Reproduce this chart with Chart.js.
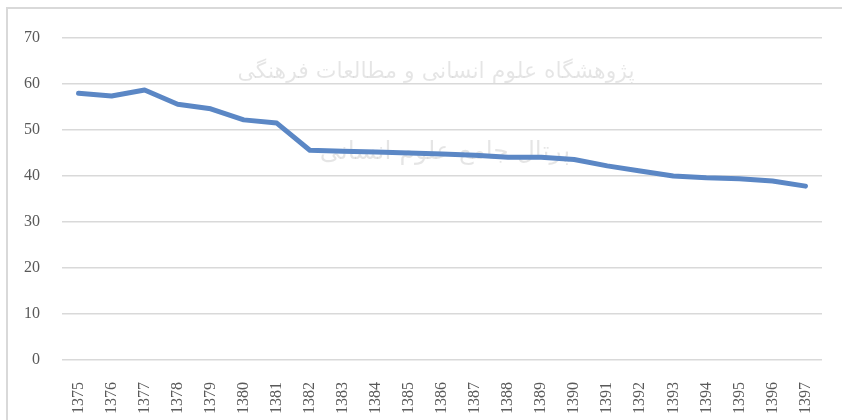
<!DOCTYPE html>
<html>
<head>
<meta charset="utf-8">
<script src="https://cdn.jsdelivr.net/npm/chart.js@4/dist/chart.umd.min.js"></script>
<style>
  html, body { margin: 0; padding: 0; background: #fff; }
  #wrap { width: 842px; height: 420px; position: relative; }
</style>
</head>
<body>
<div id="wrap"><canvas id="chart1"></canvas></div>
<script>
const years = ['1375', '1376', '1377', '1378', '1379', '1380', '1381', '1382', '1383', '1384', '1385', '1386',
  '1387', '1388', '1389', '1390', '1391', '1392', '1393', '1394', '1395', '1396', '1397'];
const values = [58.0, 57.4, 58.7, 55.6, 54.6, 52.2, 51.5, 45.6, 45.4, 45.2, 45.0, 44.8,
  44.5, 44.1, 44.1, 43.6, 42.2, 41.1, 40.0, 39.6, 39.4, 38.9, 37.8];
const yTicks = [0, 10, 20, 30, 40, 50, 60, 70];
const watermark = ['پژوهشگاه علوم انسانی و مطالعات فرهنگی', 'پرتال جامع علوم انسانی'];

const gray = '#595959';
const tickFont = { family: 'Liberation Serif', size: 16 };

// faint frame + watermark behind the chart
const backdrop = {
  id: 'backdrop',
  beforeDraw(chart) {
    const ctx = chart.ctx;
    ctx.save();
    ctx.strokeStyle = '#d9d9d9';
    ctx.lineWidth = 2;
    ctx.beginPath();
    ctx.moveTo(7, 420);
    ctx.lineTo(7, 8);
    ctx.lineTo(842, 8);
    ctx.stroke();

    ctx.fillStyle = 'rgba(0,0,0,0.10)';
    ctx.textAlign = 'center';
    ctx.textBaseline = 'middle';
    ctx.direction = 'rtl';
    ctx.font = '34px "DejaVu Sans"';
    let w = ctx.measureText(watermark[0]).width;
    ctx.font = Math.round(34 * 400 / w) + 'px "DejaVu Sans"';
    ctx.fillText(watermark[0], 436, 72);
    ctx.font = '34px "DejaVu Sans"';
    w = ctx.measureText(watermark[1]).width;
    ctx.font = Math.round(34 * 255 / w) + 'px "DejaVu Sans"';
    ctx.fillText(watermark[1], 445, 152);
    ctx.restore();
  },
};

const config = {
  type: 'line',
  data: {
    labels: years,
    datasets: [{
      data: values,
      borderColor: '#5b87c5',
      borderWidth: 5,
      pointRadius: 0,
      tension: 0,
      fill: false,
      borderCapStyle: 'round',
      borderJoinStyle: 'round',
    }],
  },
  options: {
    responsive: false,
    animation: false,
    layout: { padding: { top: 38, right: 20, left: 0, bottom: 0 } },
    plugins: { legend: { display: false }, tooltip: { enabled: false } },
    scales: {
      x: {
        offset: true,
        grid: { display: false },
        border: { display: false },
        ticks: { color: gray, font: tickFont, minRotation: 90, maxRotation: 90, padding: 14, autoSkip: false },
        afterFit(scale) { scale.height = 60; },
      },
      y: {
        min: 0,
        max: 70,
        afterBuildTicks(scale) { scale.ticks = yTicks.map(v => ({ value: v })); },
        grid: { color: '#d9d9d9', lineWidth: 1.5, drawTicks: false },
        border: { display: false },
        ticks: { color: gray, font: tickFont, padding: 22 },
        afterFit(scale) { scale.width = 62; },
      },
    },
  },
  plugins: [backdrop],
};

const canvas = document.getElementById('chart1');
canvas.width = 842;
canvas.height = 420;
var myChart = new Chart(canvas, config);
</script>
</body>
</html>
